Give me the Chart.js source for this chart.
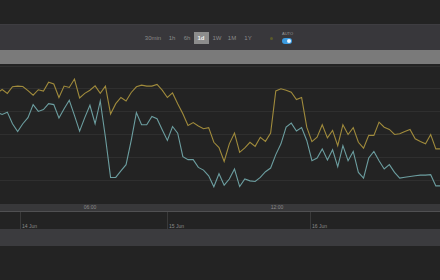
<!DOCTYPE html>
<html><head><meta charset="utf-8">
<script src="https://cdn.jsdelivr.net/npm/chart.js@4/dist/chart.umd.min.js"></script>
<style>
html,body{margin:0;padding:0;background:#232323;width:440px;height:280px;overflow:hidden;font-family:"Liberation Sans","DejaVu Sans",sans-serif}
.abs{position:absolute}
#toolbar{left:0;top:24px;width:440px;height:25px;background:#38373b;border-top:1px solid #3e3d41}
#grey{left:0;top:50px;width:440px;height:14px;background:#7a7a7a}
.btn{position:absolute;top:35px;font-size:6px;color:#8a8a8a;line-height:6px;transform:translateX(-50%)}
#sel{left:194px;top:32px;width:15px;height:12px;background:#8c8c8c}
#chartwrap{left:-3px;top:66px;width:444px;height:137px}
#band1{left:0;top:204px;width:440px;height:7px;background:#38383a;border-bottom:1px solid #505052}
#band2{left:0;top:229px;width:440px;height:17px;background:#3b3b3e}
.lbl{position:absolute;font-size:5px;color:#8a8a8a;line-height:5px}
.vt{position:absolute;top:212px;width:1px;height:17px;background:#3a3a3a}
#toggle{left:282px;top:38px;width:10px;height:6px;border-radius:3px;background:#3b9be0}
#knob{left:287px;top:39px;width:4px;height:4px;border-radius:2px;background:#e8f4ff}
#dot{left:270px;top:37px;width:3px;height:3px;border-radius:2px;background:#5a5a2a}
</style></head>
<body>
<div id="toolbar" class="abs"></div>
<div id="grey" class="abs"></div>
<div id="sel" class="abs"></div>
<div id="btns"></div>
<div id="dot" class="abs"></div>
<div class="lbl" style="left:282px;top:32px;font-size:4px;line-height:4px;color:#9a9a9a">AUTO</div>
<div id="toggle" class="abs"></div>
<div id="knob" class="abs"></div>
<div id="chartwrap" class="abs"><canvas id="c" width="444" height="137"></canvas></div>
<div id="band1" class="abs"></div>
<div id="band2" class="abs"></div>
<div id="axislbls"></div>
<script>
// Range buttons
const rangeLabels = ["30min","1h","6h","1d","1W","1M","1Y"];
const rangeX = [153,172,187,201,217,232,248];
const selectedRange = "1d";
// Navigator labels
const hourLabels = ["06:00","12:00"];
const hourX = [90,277];
const dayLabels = ["14 Jun","15 Jun","16 Jun"];
const dayX = [20,167,310];

// Series values (87 samples)
const seriesGold = [48.1,49.7,48.0,50.9,51.2,51.0,49.2,47.2,49.6,49.0,52.9,52.1,46.2,51.2,50.6,54.3,46.0,48.0,49.4,51.3,48.0,51.2,39.0,43.5,46.2,44.7,48.4,50.9,51.6,51.2,51.2,51.9,49.4,46.2,48.2,43.5,39.1,34.0,35.2,33.7,32.5,33.0,26.6,24.3,18.2,25.9,30.6,22.2,24.1,26.6,24.8,28.8,27.0,30.6,49.1,50.0,49.4,48.5,45.3,46.2,33.2,26.9,28.8,34.3,28.5,31.8,25.1,34.3,30.0,33.0,26.6,24.0,29.6,29.6,35.4,33.2,32.2,30.0,30.3,31.3,32.2,28.1,26.9,25.9,30.0,23.7,23.7];
const seriesTeal = [39.7,38.8,39.8,34.7,31.3,34.7,37.4,43.1,40.1,40.9,43.5,43.1,37.2,41.3,45.0,38.4,31.5,37.4,42.8,34.7,44.7,28.8,11.2,11.2,14.1,16.8,27.4,39.6,34.3,34.3,37.9,36.9,32.1,27.4,33.5,30.6,20.3,19.0,19.0,15.6,14.4,11.9,7.1,12.8,7.8,10.5,14.9,7.2,10.5,9.7,9.4,11.2,13.7,15.3,21.2,25.9,33.2,35.0,31.5,33.0,27.4,18.5,19.7,23.7,18.8,23.3,15.9,25.1,18.5,22.6,13.4,10.9,19.7,22.6,18.5,14.9,16.8,13.4,10.9,11.3,11.6,11.9,12.2,12.2,12.4,7.5,7.5];
const categories = seriesGold.map((_, i) => i);

// build HTML labels
const btns = document.getElementById('btns');
rangeLabels.forEach((t, i) => {
  const d = document.createElement('div');
  d.className = 'btn';
  d.textContent = t;
  d.style.left = rangeX[i] + 'px';
  if (t === selectedRange) { d.style.color = '#f0f0f0'; d.style.fontWeight = 'bold'; }
  btns.appendChild(d);
});
const al = document.getElementById('axislbls');
hourLabels.forEach((t, i) => {
  const d = document.createElement('div');
  d.className = 'lbl';
  d.textContent = t;
  d.style.left = hourX[i] + 'px';
  d.style.top = '205px';
  d.style.transform = 'translateX(-50%)';
  al.appendChild(d);
});
dayLabels.forEach((t, i) => {
  const v = document.createElement('div');
  v.className = 'vt';
  v.style.left = dayX[i] + 'px';
  al.appendChild(v);
  const d = document.createElement('div');
  d.className = 'lbl';
  d.textContent = t;
  d.style.left = (dayX[i] + 2) + 'px';
  d.style.top = '224px';
  al.appendChild(d);
});

new Chart(document.getElementById('c'), {
  type: 'line',
  data: {
    labels: categories,
    datasets: [
      { data: seriesGold, borderColor: '#a08b3c', borderWidth: 1.1, pointRadius: 0, tension: 0 },
      { data: seriesTeal, borderColor: '#6c9ea0', borderWidth: 1.1, pointRadius: 0, tension: 0 }
    ]
  },
  options: {
    responsive: false,
    animation: false,
    events: [],
    layout: { padding: 0 },
    plugins: { legend: { display: false }, tooltip: { enabled: false } },
    scales: {
      x: { display: false, offset: false },
      y: {
        min: 0, max: 60,
        ticks: { display: false, stepSize: 10 },
        grid: { color: '#2f2f2f', lineWidth: 1, drawTicks: false },
        border: { display: false }
      }
    }
  }
});
</script>
</body></html>
